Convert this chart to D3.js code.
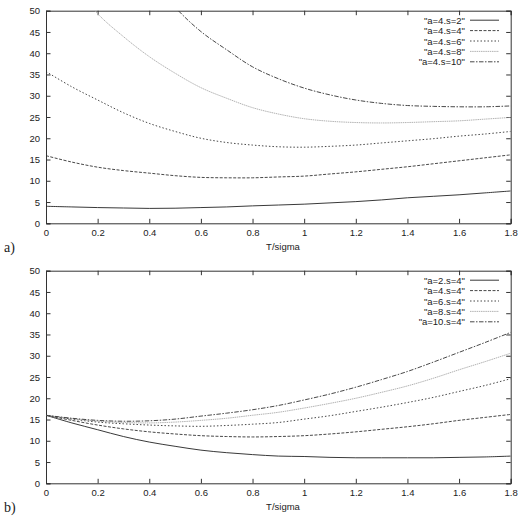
<!DOCTYPE html>
<html>
<head>
<meta charset="utf-8">
<script src="https://cdn.jsdelivr.net/npm/d3@7"></script>
<style>
body { margin: 0; background: #fff; }
svg { display: block; }
text { font-family: "Liberation Sans", Arial, sans-serif; fill: #222; }
</style>
</head>
<body>
<svg id="chart" width="519" height="516"></svg>
<script>
// T/sigma sample points
var tValues = [0, 0.1, 0.2, 0.3, 0.4, 0.5, 0.6, 0.7, 0.8, 0.9, 1.0, 1.1, 1.2, 1.3, 1.4, 1.5, 1.6, 1.7, 1.8];
var xTicks = [0, 0.2, 0.4, 0.6, 0.8, 1, 1.2, 1.4, 1.6, 1.8];
var yTicks = [0, 5, 10, 15, 20, 25, 30, 35, 40, 45, 50];

// panel a) a=4, s varies
var labelsA = ['"a=4.s=2"', '"a=4.s=4"', '"a=4.s=6"', '"a=4.s=8"', '"a=4.s=10"'];
var a4s2 = [4.0, 3.85, 3.7, 3.6, 3.5, 3.55, 3.7, 3.85, 4.1, 4.3, 4.5, 4.8, 5.1, 5.5, 6.0, 6.35, 6.7, 7.15, 7.6];
var a4s4 = [15.9, 14.4, 13.2, 12.4, 11.8, 11.2, 10.8, 10.7, 10.7, 10.9, 11.1, 11.6, 12.1, 12.7, 13.3, 14.0, 14.7, 15.4, 16.1];
var a4s6 = [35.7, 32.1, 29.0, 26.0, 23.5, 21.6, 20.0, 19.0, 18.4, 18.0, 17.9, 18.1, 18.4, 18.9, 19.4, 19.9, 20.5, 21.0, 21.6];
var a4s8 = [null, 57, 49.3, 43.9, 39.2, 35.3, 31.9, 29.4, 27.2, 25.7, 24.6, 24.0, 23.7, 23.6, 23.7, 23.9, 24.1, 24.5, 24.9];
var a4s10 = [null, null, null, null, 58, 50.8, 45.1, 40.8, 36.8, 34.0, 31.8, 30.2, 29.0, 28.2, 27.7, 27.5, 27.4, 27.4, 27.6];

// panel b) s=4, a varies
var labelsB = ['"a=2.s=4"', '"a=4.s=4"', '"a=6.s=4"', '"a=8.s=4"', '"a=10.s=4"'];
var a2s4 = [16.0, 14.2, 12.6, 11.0, 9.7, 8.7, 7.8, 7.2, 6.75, 6.4, 6.3, 6.1, 6.0, 6.0, 6.0, 6.0, 6.1, 6.2, 6.4];
var b4s4 = [16.0, 14.8, 13.7, 12.8, 12.1, 11.6, 11.2, 11.0, 10.9, 11.0, 11.2, 11.6, 12.1, 12.7, 13.3, 14.0, 14.8, 15.5, 16.2];
var a6s4 = [16.0, 15.1, 14.4, 14.0, 13.7, 13.5, 13.4, 13.6, 13.9, 14.3, 15.1, 15.9, 16.9, 17.9, 19.0, 20.2, 21.6, 23.0, 24.6];
var a8s4 = [16.0, 15.2, 14.6, 14.3, 14.2, 14.4, 14.8, 15.3, 16.0, 16.7, 17.7, 18.8, 20.0, 21.4, 22.9, 24.7, 26.7, 28.6, 30.6];
var a10s4 = [16.0, 15.3, 14.8, 14.6, 14.7, 15.1, 15.8, 16.5, 17.3, 18.3, 19.6, 21.0, 22.6, 24.4, 26.3, 28.5, 30.8, 33.1, 35.5];

// gnuplot-like line types: solid, dashed, dotted, fine grey, dash-dot
var lineStyles = [
    { stroke: "#222", dash: null },
    { stroke: "#333", dash: "3,1.5" },
    { stroke: "#333", dash: "1.5,2" },
    { stroke: "#aaa", dash: "1.5,0.7" },
    { stroke: "#333", dash: "4.5,1.5,1.5,1.5" }
];

var svg = d3.select("#chart");
var left = 46, right = 510.7;

function drawPanel (top, bottom, series, labels, tag, id)
{
    var x = d3.scaleLinear().domain([0, 1.8]).range([left, right]);
    var y = d3.scaleLinear().domain([0, 50]).range([bottom, top]);
    var g = svg.append("g");

    g.append("clipPath").attr("id", "clip" + id)
        .append("rect")
        .attr("x", left).attr("y", top)
        .attr("width", right - left).attr("height", bottom - top);

    // axes with inward ticks
    var bottomAxis = d3.axisBottom(x).tickValues(xTicks).tickSize(-4.5).tickPadding(6)
        .tickFormat(d3.format(""));
    var leftAxis = d3.axisLeft(y).tickValues(yTicks).tickSize(-4.5).tickPadding(6);
    var topAxis = d3.axisTop(x).tickValues(xTicks).tickSize(-4.5).tickFormat("");
    var rightAxis = d3.axisRight(y).tickValues(yTicks).tickSize(-4.5).tickFormat("");

    var axes = [
        g.append("g").attr("transform", "translate(0," + bottom + ")").call(bottomAxis),
        g.append("g").attr("transform", "translate(" + left + ",0)").call(leftAxis),
        g.append("g").attr("transform", "translate(0," + top + ")").call(topAxis),
        g.append("g").attr("transform", "translate(" + right + ",0)").call(rightAxis)
    ];
    axes.forEach(function (a) {
        a.selectAll("path").attr("stroke", "#333").attr("stroke-width", 1);
        a.selectAll("line").attr("stroke", "#333");
        a.selectAll("text").style("font-family", "Liberation Sans, Arial, sans-serif")
            .style("font-size", "9.5px").attr("fill", "#333");
    });

    var line = d3.line()
        .defined(function (d) { return d[1] !== null; })
        .x(function (d) { return x(d[0]); })
        .y(function (d) { return y(d[1]); })
        .curve(d3.curveCatmullRom);

    series.forEach(function (vals, i) {
        var pts = tValues.map(function (t, k) { return [t, vals[k]]; });
        g.append("path")
            .attr("clip-path", "url(#clip" + id + ")")
            .attr("d", line(pts))
            .attr("fill", "none")
            .attr("stroke", lineStyles[i].stroke)
            .attr("stroke-width", 0.9)
            .attr("stroke-dasharray", lineStyles[i].dash);
    });

    // legend
    labels.forEach(function (lab, i) {
        var ly = top + 9.5 + i * 10.4;
        g.append("text")
            .attr("x", 465).attr("y", ly + 3.5)
            .attr("text-anchor", "end")
            .style("font-size", "9.5px")
            .attr("fill", "#333")
            .text(lab);
        g.append("line")
            .attr("x1", 470).attr("x2", 499)
            .attr("y1", ly).attr("y2", ly)
            .attr("stroke", lineStyles[i].stroke)
            .attr("stroke-width", 0.9)
            .attr("stroke-dasharray", lineStyles[i].dash);
    });

    g.append("text")
        .attr("x", 283).attr("y", bottom + 27)
        .attr("text-anchor", "middle")
        .style("font-size", "9.5px")
        .attr("fill", "#333")
        .text("T/sigma");

    g.append("text")
        .attr("x", 4).attr("y", bottom + 29)
        .style("font-family", "Liberation Serif, Times New Roman, serif")
        .style("font-size", "14px")
        .text(tag);
}

drawPanel(10.7, 223.3, [a4s2, a4s4, a4s6, a4s8, a4s10], labelsA, "a)", "a");
drawPanel(270.7, 483.3, [a2s4, b4s4, a6s4, a8s4, a10s4], labelsB, "b)", "b");
</script>
</body>
</html>
